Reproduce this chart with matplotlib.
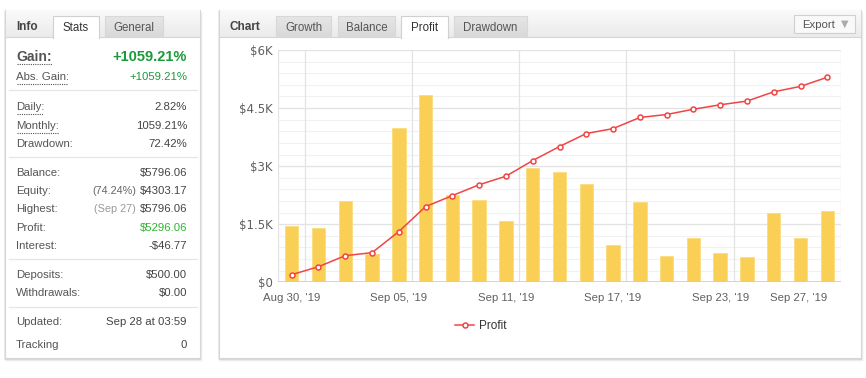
import matplotlib
matplotlib.use('Agg')
import matplotlib.pyplot as plt
from matplotlib.patches import Rectangle
import numpy as np

plt.rcParams['font.family'] = ['Liberation Sans', 'DejaVu Sans']

# 数据
dates = ["Aug 30, '19", "Sep 02, '19", "Sep 03, '19", "Sep 04, '19", "Sep 05, '19",
         "Sep 06, '19", "Sep 09, '19", "Sep 10, '19", "Sep 11, '19", "Sep 12, '19",
         "Sep 13, '19", "Sep 16, '19", "Sep 17, '19", "Sep 18, '19", "Sep 19, '19",
         "Sep 20, '19", "Sep 23, '19", "Sep 24, '19", "Sep 25, '19", "Sep 26, '19",
         "Sep 27, '19"]
bar_values = [1450, 1400, 2090, 725, 3980, 4825, 2250, 2130, 1580, 2950,
              2845, 2530, 957, 2070, 680, 1140, 750, 654, 1784, 1140, 1840]
profit = [197, 403, 688, 766, 1310, 1955, 2240, 2520, 2740, 3145,
          3507, 3843, 3970, 4257, 4334, 4470, 4585, 4680, 4920, 5060, 5296]
y_ticks = [0, 1500, 3000, 4500, 6000]
y_labels = ['$0', '$1.5K', '$3K', '$4.5K', '$6K']

info_rows = [
    ('Gain:', '+1059.21%', None),
    ('Abs. Gain:', '+1059.21%', None),
    ('Daily:', '2.82%', None),
    ('Monthly:', '1059.21%', None),
    ('Drawdown:', '72.42%', None),
    ('Balance:', '$5796.06', None),
    ('Equity:', '$4303.17', '(74.24%)'),
    ('Highest:', '$5796.06', '(Sep 27)'),
    ('Profit:', '$5296.06', None),
    ('Interest:', '-$46.77', None),
    ('Deposits:', '$500.00', None),
    ('Withdrawals:', '$0.00', None),
    ('Updated:', 'Sep 28 at 03:59', None),
    ('Tracking', '0', None),
]
row_y = [57, 77, 107, 126, 144, 173, 191, 209, 228, 246, 275, 293, 322, 345]
sep_y = [90, 157, 259, 307]

W, H = 866, 378
fig = plt.figure(figsize=(W / 100, H / 100), dpi=100)
fig.patch.set_facecolor('white')

# 背景层, 像素坐标
bg = fig.add_axes([0, 0, 1, 1])
bg.set_xlim(0, W)
bg.set_ylim(H, 0)
bg.axis('off')


def gradient(top, bottom):
    t = np.linspace(0, 1, 20).reshape(-1, 1, 1)
    c0 = np.array(matplotlib.colors.to_rgb(top)).reshape(1, 1, 3)
    c1 = np.array(matplotlib.colors.to_rgb(bottom)).reshape(1, 1, 3)
    return c0 + (c1 - c0) * t


def panel(x0, x1, y0, y1):
    # 阴影
    for i, a in enumerate([0.08, 0.05, 0.025]):
        bg.add_patch(Rectangle((x0 - 1 + i, y0 + 1 + i), x1 - x0 + 2, y1 - y0 + 1,
                               facecolor='#000000', alpha=a, edgecolor='none', zorder=1))
    bg.add_patch(Rectangle((x0, y0), x1 - x0, y1 - y0, facecolor='white',
                           edgecolor='#d6d6d6', lw=0.8, zorder=2))
    bg.imshow(gradient('#fafafa', '#ebebeb'), extent=(x0 + 0.5, x1 - 0.5, 37, y0 + 0.5),
              aspect='auto', zorder=3, interpolation='bilinear')
    bg.plot([x0, x1], [37, 37], color='#d6d6d6', lw=0.8, zorder=4)


def tab(x0, x1, label, active):
    if active:
        bg.add_patch(Rectangle((x0, 16), x1 - x0, 21.6, facecolor='white',
                               edgecolor='none', zorder=5))
        bg.plot([x0, x0, x1, x1], [37.5, 16, 16, 37.5], color='#d0d0d0', lw=0.8, zorder=6)
        col = '#333333'
    else:
        bg.imshow(gradient('#e6e6e6', '#d9d9d9'), extent=(x0, x1, 37, 16),
                  aspect='auto', zorder=5, interpolation='bilinear')
        bg.plot([x0, x0, x1, x1], [37, 16, 16, 37], color='#d8d8d8', lw=0.8, zorder=6)
        col = '#555555'
    bg.text((x0 + x1) / 2, 28, label, ha='center', va='center', fontsize=8.3,
            color=col, zorder=7)


# 左侧信息面板
panel(5, 200, 10, 358)
bg.text(16, 27, 'Info', fontsize=8.5, fontweight='bold', color='#444444',
        va='center', zorder=7)
tab(53, 99, 'Stats', True)
tab(105, 163, 'General', False)

for y in sep_y:
    bg.plot([9, 197], [y, y], color='#e6e6e6', lw=0.9, zorder=4)

label_x, value_x = 16, 187
underline = {'Gain:': 52, 'Abs. Gain:': 67, 'Daily:': 43, 'Monthly:': 59}
for (lab, val, extra), y in zip(info_rows, row_y):
    if lab == 'Gain:':
        bg.text(label_x, y, lab, fontsize=10, fontweight='bold', color='#555555',
                va='center', zorder=7)
        bg.text(value_x, y, val, fontsize=10.5, fontweight='bold', color='#1a9a3a',
                va='center', ha='right', zorder=7)
    else:
        vcol = '#444444'
        if lab == 'Abs. Gain:':
            vcol = '#1a9a3a'
        elif lab == 'Profit:':
            vcol = '#2fb52f'
        bg.text(label_x, y, lab, fontsize=8.2, color='#555555', va='center', zorder=7)
        bg.text(value_x, y, val, fontsize=8.2, color=vcol, va='center',
                ha='right', zorder=7)
        if extra:
            ecol = '#666666' if lab == 'Equity:' else '#999999'
            bg.text(value_x - 51, y, extra, fontsize=7.8, color=ecol,
                    va='center', ha='right', zorder=7)
    if lab in underline:
        bg.plot([label_x + 1, underline[lab]], [y + 6.5, y + 6.5], color='#555555',
                lw=0.8, ls=(0, (1, 1)), zorder=7)

# 右侧图表面板
panel(219, 861, 10, 358)
bg.text(230, 27, 'Chart', fontsize=8.5, fontweight='bold', color='#444444',
        va='center', zorder=7)
tab(276, 331, 'Growth', False)
tab(338, 395, 'Balance', False)
tab(401, 448, 'Profit', True)
tab(454, 527, 'Drawdown', False)
bg.add_patch(Rectangle((794, 15), 61, 18, facecolor='#f9f9f9', edgecolor='#d0d0d0',
                       lw=0.8, zorder=7))
bg.text(802, 24.5, 'Export', fontsize=8.2, color='#555555', va='center', zorder=8)
bg.text(845, 24, '\u25bc', fontsize=7, color='#aaaaaa', va='center', ha='center',
        zorder=8, family='DejaVu Sans')

# 图表区
ax = fig.add_axes([278.3 / W, (H - 282.3) / H, (840.7 - 278.3) / W, (282.3 - 50) / H])
ax.set_zorder(10)
ax.patch.set_alpha(0)
x = np.arange(len(dates))
ax.set_xlim(-0.5, len(dates) - 0.5)
ax.set_ylim(0, 6000)

for yy in np.arange(0, 6001, 300):
    ax.axhline(yy, color='#f1f1f1', lw=0.8, zorder=0)
for yy in y_ticks:
    ax.axhline(yy, color='#e3e3e3', lw=0.9, zorder=0)
for xx in [-0.5, 0.5, 4.5, 8.5, 12.5, 16.5, len(dates) - 0.5]:
    ax.axvline(xx, color='#e3e3e3', lw=0.9, zorder=0)

ax.bar(x, bar_values, width=0.5, color='#f9cf55', edgecolor='#fbdc80', lw=0.6, zorder=2)
line, = ax.plot(x, profit, color='#f04545', lw=1.1, marker='o', markersize=3.6,
                markerfacecolor='white', markeredgecolor='#f04545', markeredgewidth=1.1,
                zorder=3, label='Profit')
ax.axhline(0, color='#c0d0e0', lw=1.2, zorder=4)

for s in ax.spines.values():
    s.set_visible(False)
ax.set_yticks(y_ticks)
ax.set_yticklabels(y_labels, fontsize=8.5, color='#606060', family=['DejaVu Sans'])
tick_idx = list(range(0, len(dates), 4))
ax.set_xticks(tick_idx)
ax.set_xticklabels([dates[i] for i in tick_idx], fontsize=8.2, color='#606060')
ax.tick_params(axis='both', length=0, pad=4)
ax.tick_params(axis='x', pad=8)
ax.get_xticklabels()[-1].set_horizontalalignment('right')

leg = fig.legend(handles=[line], loc='center', bbox_to_anchor=(481 / W, (H - 326) / H),
                 frameon=False, fontsize=8.5, handlelength=1.6, handletextpad=0.4)
for t in leg.get_texts():
    t.set_color('#333333')

fig.savefig('out.png', dpi=100)
